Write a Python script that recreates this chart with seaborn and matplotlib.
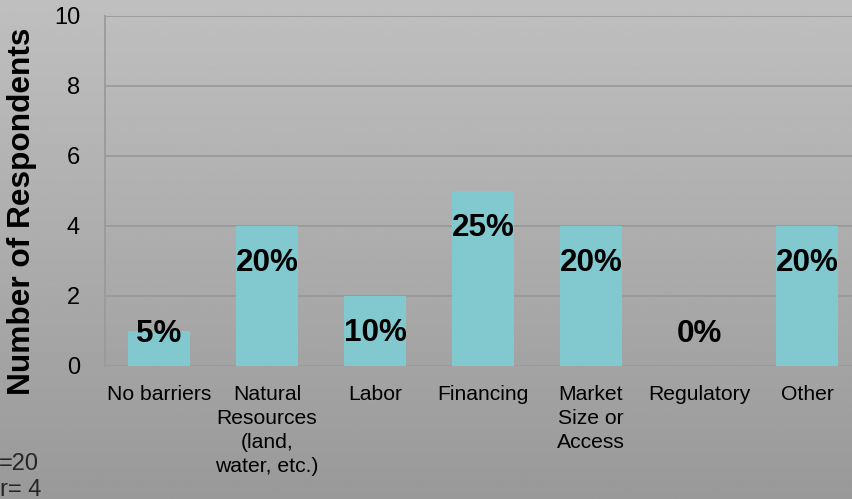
import numpy as np
import pandas as pd
import matplotlib
matplotlib.use("Agg")
import matplotlib.pyplot as plt
import seaborn as sns

# Survey data: main barrier named by respondents
categories = ["No barriers", "Natural\nResources\n(land,\nwater, etc.)", "Labor",
              "Financing", "Market\nSize or\nAccess", "Regulatory", "Other"]
respondents = [1, 4, 2, 5, 4, 0, 4]
percent_labels = ["5%", "20%", "10%", "25%", "20%", "0%", "20%"]
y_ticks = [0, 2, 4, 6, 8, 10]

df = pd.DataFrame({"barrier": categories, "count": respondents})

sns.set_style("white")
plt.rcParams["font.family"] = ["Liberation Sans", "DejaVu Sans"]

W, H = 852, 499
fig = plt.figure(figsize=(W / 100, H / 100), dpi=100)

# Grey vertical gradient backdrop
bg = fig.add_axes([0, 0, 1, 1], zorder=-10)
grad = np.linspace(0.750, 0.600, 256).reshape(-1, 1)
bg.imshow(np.repeat(grad, 2, axis=1), aspect="auto", cmap="gray", vmin=0, vmax=1,
          extent=[0, 1, 0, 1], origin="upper")
bg.set_axis_off()

left, right = 105 / W, 861 / W
bottom, top = 1 - 366 / H, 1 - 16 / H
ax = fig.add_axes([left, bottom, right - left, top - bottom])
ax.set_facecolor("none")

sns.barplot(data=df, x="barrier", y="count", color="#82c9cf", saturation=1,
            width=0.57, ax=ax, zorder=3, linewidth=0, edgecolor="none")

ax.set_ylim(0, 10)
ax.set_xlim(-0.5, len(categories) - 0.5)
ax.set_yticks(y_ticks)
ax.set_yticklabels([str(t) for t in y_ticks])
ax.yaxis.grid(True, color="#9a9a9a", linewidth=1.3, zorder=0)
ax.set_axisbelow(True)
for side in ["top", "right", "bottom"]:
    ax.spines[side].set_visible(False)
ax.spines["left"].set_color("#9a9a9a")
ax.spines["left"].set_linewidth(1.3)
ax.tick_params(axis="both", length=0, colors="black")
ax.tick_params(axis="x", pad=14, labelsize=15.2)
ax.tick_params(axis="y", pad=18, labelsize=17)
for t in ax.get_xticklabels():
    t.set_linespacing(1.33)
ax.set_xlabel("")
ax.set_ylabel("")

# Percentage labels inside the top of each bar
for i, (v, lab) in enumerate(zip(respondents, percent_labels)):
    ax.text(i, max(v - 1.07, 0.9), lab, ha="center", va="center",
            fontsize=22.6, fontweight="bold", color="black", zorder=5)

fig.text(22 / W, 1 - 211 / H, "Number of Respondents", rotation=90,
         ha="center", va="center", fontsize=22.8, fontweight="bold", color="black")

# Sample-size notes at the lower left
fig.text(-1 / W, 1 - 464 / H, "=20", ha="left", va="center", fontsize=17)
fig.text(41 / W, 1 - 490 / H, "r= 4", ha="right", va="center", fontsize=17)

fig.savefig("out.png", dpi=100)
